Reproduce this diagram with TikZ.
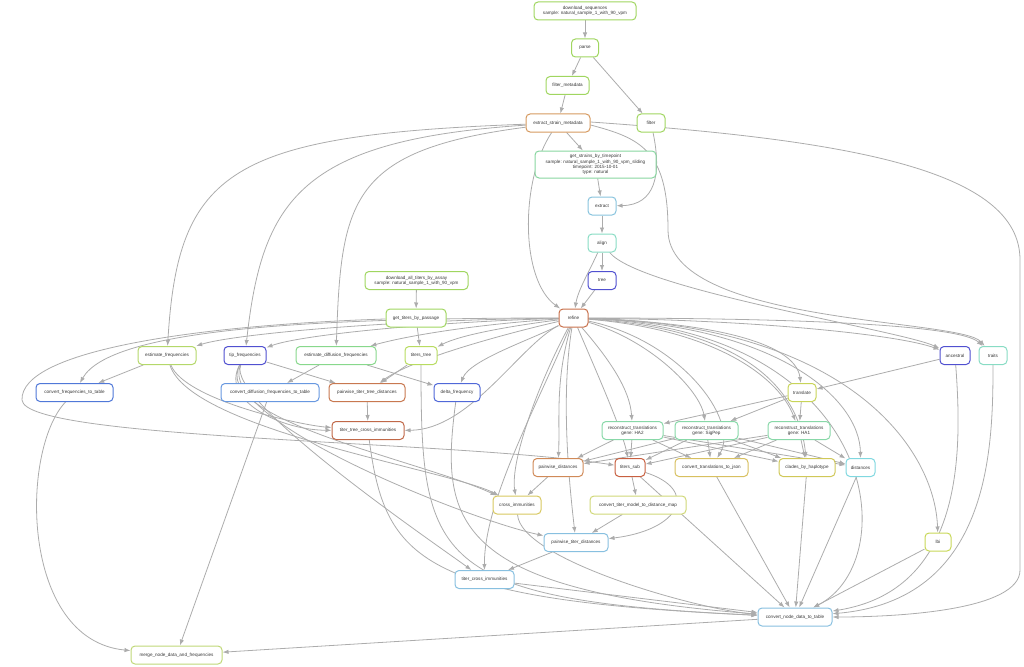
\documentclass[tikz,border=0pt]{standalone}
\usepackage{fontspec}
\setmainfont{Liberation Sans}
\usetikzlibrary{arrows.meta,backgrounds}
\definecolor{ec}{RGB}{172,172,172}
\definecolor{cgreen}{RGB}{160,214,96}
\definecolor{cesm}{RGB}{214,154,96}
\definecolor{cmint}{RGB}{136,214,160}
\definecolor{cltblue}{RGB}{136,196,222}
\definecolor{cteal}{RGB}{136,220,196}
\definecolor{cblue}{RGB}{80,80,208}
\definecolor{crefine}{RGB}{200,112,74}
\definecolor{cyg}{RGB}{180,216,106}
\definecolor{cdiff}{RGB}{136,216,140}
\definecolor{ctt}{RGB}{184,220,96}
\definecolor{ccft}{RGB}{80,120,216}
\definecolor{ccdft}{RGB}{104,152,224}
\definecolor{cpttd}{RGB}{200,120,80}
\definecolor{cdf}{RGB}{80,104,216}
\definecolor{ctransl}{RGB}{200,212,88}
\definecolor{cttci}{RGB}{192,104,72}
\definecolor{crt}{RGB}{136,216,168}
\definecolor{cpd}{RGB}{208,138,88}
\definecolor{cts}{RGB}{200,96,64}
\definecolor{cyel}{RGB}{216,192,96}
\definecolor{ccbh}{RGB}{208,200,88}
\definecolor{cdist}{RGB}{128,216,224}
\definecolor{cci}{RGB}{216,200,96}
\definecolor{cctm}{RGB}{208,216,120}
\definecolor{clbi}{RGB}{200,216,88}
\definecolor{cptd}{RGB}{136,192,224}
\definecolor{cmerge}{RGB}{192,216,120}
\tikzset{
 nd/.style={rectangle, rounded corners=4pt, line width=1pt, fill=white, minimum height=18pt, inner sep=1pt, align=center, font=\fontsize{4.6}{5.3}\selectfont, text=black!78},
 e/.style={draw=ec, line width=0.8pt, -{Latex[length=6pt,width=4.4pt]}}
}
\begin{document}
\begin{tikzpicture}[x=1pt,y=-1pt]
\useasboundingbox (0,0) rectangle (1024,666);
% nodes
\node[nd,draw=cgreen,minimum width=102pt] (ds) at (585,11) {download\_sequences\\sample: natural\_sample\_1\_with\_90\_vpm};
\node[nd,draw=cgreen,minimum width=27pt] (parse) at (585,48) {parse};
\node[nd,draw=cgreen,minimum width=43pt] (fm) at (567.5,85.5) {filter\_metadata};
\node[nd,draw=cesm,minimum width=64pt] (esm) at (558,123) {extract\_strain\_metadata};
\node[nd,draw=cgreen,minimum width=28pt] (filt) at (651,123) {filter};
\node[nd,draw=cmint,minimum width=121pt,minimum height=27pt] (gst) at (595.5,164.5) {get\_strains\_by\_timepoint\\sample: natural\_sample\_1\_with\_90\_vpm\_sliding\\timepoint: 2015-10-01\\type: natural};
\node[nd,draw=cltblue,minimum width=28pt] (extr) at (602,206) {extract};
\node[nd,draw=cteal,minimum width=28pt] (align) at (602,243) {align};
\node[nd,draw=cblue,minimum width=28pt] (tree) at (602,280.5) {tree};
\node[nd,draw=cgreen,minimum width=103pt] (dat) at (416.5,280.5) {download\_all\_titers\_by\_assay\\sample: natural\_sample\_1\_with\_90\_vpm};
\node[nd,draw=cgreen,minimum width=60pt] (gtp) at (416,318) {get\_titers\_by\_passage};
\node[nd,draw=crefine,minimum width=29pt] (refine) at (573.5,318) {refine};
\node[nd,draw=cyg,minimum width=58pt] (ef) at (167,355.5) {estimate\_frequencies};
\node[nd,draw=cblue,minimum width=42pt] (tf) at (245,355.5) {tip\_frequencies};
\node[nd,draw=cdiff,minimum width=80pt] (edf) at (336,355.5) {estimate\_diffusion\_frequencies};
\node[nd,draw=ctt,minimum width=32pt] (tt) at (421,355.5) {titers\_tree};
\node[nd,draw=cblue,minimum width=30pt] (anc) at (955,355.5) {ancestral};
\node[nd,draw=cteal,minimum width=28pt] (traits) at (993,355.5) {traits};
\node[nd,draw=ccft,minimum width=77pt] (cft) at (74.5,392.5) {convert\_frequencies\_to\_table};
\node[nd,draw=ccdft,minimum width=98pt] (cdft) at (270,392.5) {convert\_diffusion\_frequencies\_to\_table};
\node[nd,draw=cpttd,minimum width=76pt] (pttd) at (367,392.5) {pairwise\_titer\_tree\_distances};
\node[nd,draw=cdf,minimum width=46pt] (df) at (457,392.5) {delta\_frequency};
\node[nd,draw=ctransl,minimum width=28pt] (transl) at (802,392.5) {translate};
\node[nd,draw=cttci,minimum width=72pt] (ttci) at (368,430.5) {titer\_tree\_cross\_immunities};
\node[nd,draw=crt,minimum width=61pt] (ha2) at (632.5,430.5) {reconstruct\_translations\\gene: HA2};
\node[nd,draw=crt,minimum width=63pt] (sig) at (706.5,430.5) {reconstruct\_translations\\gene: SigPep};
\node[nd,draw=crt,minimum width=62pt] (ha1) at (799,430.5) {reconstruct\_translations\\gene: HA1};
\node[nd,draw=cpd,minimum width=50pt] (pd) at (558,467.5) {pairwise\_distances};
\node[nd,draw=cts,minimum width=30pt] (ts) at (630,467.5) {titers\_sub};
\node[nd,draw=cyel,minimum width=73pt] (cttj) at (711.5,467.5) {convert\_translations\_to\_json};
\node[nd,draw=ccbh,minimum width=56pt] (cbh) at (807,467.5) {clades\_by\_haplotype};
\node[nd,draw=cdist,minimum width=29pt] (dist) at (860.5,467.5) {distances};
\node[nd,draw=cci,minimum width=48pt] (ci) at (517,505) {cross\_immunities};
\node[nd,draw=cctm,minimum width=96pt] (ctm) at (638,505) {convert\_titer\_model\_to\_distance\_map};
\node[nd,draw=clbi,minimum width=26pt] (lbi) at (938,542) {lbi};
\node[nd,draw=cptd,minimum width=64pt] (ptd) at (576,542.5) {pairwise\_titer\_distances};
\node[nd,draw=cptd,minimum width=59pt] (tci) at (484.5,579.5) {titer\_cross\_immunities};
\node[nd,draw=cptd,minimum width=74pt] (cnd) at (795,617) {convert\_node\_data\_to\_table};
\node[nd,draw=cmerge,minimum width=91pt] (merge) at (176.5,655) {merge\_node\_data\_and\_frequencies};
\begin{scope}[on background layer]
% edges top
\draw[e] (ds) -- (parse);
\draw[e] (parse) -- (fm);
\draw[e] (parse) -- (filt);
\draw[e] (fm) -- (esm);
\draw[e] (esm) -- (gst);
\draw[e] (gst) -- (extr);
\draw[e] (filt) .. controls (662,175) and (655,205) .. (extr);
\draw[e] (extr) -- (align);
\draw[e] (align) -- (tree);
\draw[e] (align) .. controls (590,270) and (578,290) .. (refine);
\draw[e] (tree) -- (refine);
\draw[e] (esm) .. controls (520,180) and (520,280) .. (refine);
\draw[e] (align) .. controls (640,290) and (900,330) .. (anc);
\draw[e] ([yshift=-2pt]esm.east) .. controls (640,138) and (668,150) .. (668,230) .. controls (668,325) and (960,318) .. (traits);
\draw[e] ([yshift=1pt]esm.east) .. controls (850,140) and (1020,170) .. (1020,260) -- (1020,570) .. controls (1020,610) and (900,617) .. (cnd);
\draw[e] (esm) .. controls (230,135) and (178,170) .. (ef);
\draw[e] (esm) .. controls (300,140) and (262,200) .. (tf);
\draw[e] (esm) .. controls (350,150) and (341,200) .. (edf);
\draw[e] (dat) -- (gtp);
\draw[e] (gtp) -- (tt);
\draw[e] (gtp) .. controls (200,325) and (20,350) .. (22,400) .. controls (25,440) and (450,440) .. (ts);
% refine left fan
\draw[e] (refine) .. controls (300,318) and (110,330) .. (cft);
\draw[e] (refine) .. controls (380,320) and (230,335) .. (ef);
\draw[e] (refine) .. controls (430,322) and (300,335) .. (tf);
\draw[e] (refine) .. controls (480,324) and (410,335) .. (edf);
\draw[e] (refine) .. controls (510,326) and (460,335) .. (tt);
\draw[e] (refine) .. controls (500,335) and (410,360) .. (pttd);
\draw[e] (refine) .. controls (530,340) and (470,360) .. (df);
\draw[e] (refine) .. controls (520,345) and (470,430) .. (ttci);
% refine down fan
\draw[e] (refine) .. controls (540,400) and (484,500) .. (tci);
\draw[e] (refine) .. controls (540,380) and (510,460) .. (ci);
\draw[e] (refine) .. controls (555,380) and (560,420) .. (pd);
\draw[e] (refine) .. controls (560,400) and (570,490) .. (ptd);
\draw[e] (refine) .. controls (600,380) and (622,430) .. (ts);
% refine right fan
\draw[e] (refine) .. controls (610,360) and (630,390) .. (ha2);
\draw[e] (refine) .. controls (650,340) and (700,390) .. (sig);
\draw[e] (refine) .. controls (720,330) and (780,380) .. (ha1);
\draw[e] (refine) .. controls (700,322) and (795,340) .. (transl);
\draw[e] (refine) .. controls (760,320) and (900,335) .. (anc);
\draw[e] (refine) .. controls (800,318) and (960,325) .. (traits);
\draw[e] (refine) .. controls (780,325) and (860,400) .. (dist);
\draw[e] (refine) .. controls (760,330) and (800,400) .. (cbh);
\draw[e] (refine) .. controls (680,340) and (740,420) .. (cttj);
\draw[e] (refine) .. controls (850,325) and (935,450) .. (lbi);
\draw[e] (refine) .. controls (880,330) and (905,560) .. (cnd);
% right part
\draw[e] (anc) -- (transl);
\draw[e] (anc) .. controls (962,450) and (965,590) .. (cnd);
\draw[e] (traits) .. controls (993,450) and (990,600) .. (cnd);
\draw[e] (transl) -- (ha2);
\draw[e] (transl) -- (sig);
\draw[e] (transl) -- (ha1);
\foreach \r in {ha2,sig,ha1}{
  \draw[e] (\r) -- (pd);
  \draw[e] (\r) -- (ts);
  \draw[e] (\r) -- (cttj);
  \draw[e] (\r) -- (cbh);
  \draw[e] (\r) -- (dist);
}
\draw[e] (ts) -- (ctm);
\draw[e] (ctm) -- (ptd);
\draw[e] (ts) .. controls (700,490) and (680,530) .. (ptd);
\draw[e] (ts) -- (cnd);
\draw[e] (pd) -- (ci);
\draw[e] (ptd) -- (tci);
\draw[e] (ci) .. controls (520,560) and (700,610) .. (cnd);
\draw[e] (tci) -- (cnd);
\draw[e] (cttj) -- (cnd);
\draw[e] (cbh) -- (cnd);
\draw[e] (dist) -- (cnd);
\draw[e] (lbi) -- (cnd);
\draw[e] (tt) .. controls (421,560) and (430,600) .. (cnd);
\draw[e] (df) .. controls (440,520) and (450,590) .. (cnd);
\draw[e] (ttci) .. controls (385,560) and (420,600) .. (cnd);
% left part
\draw[e] (ef) -- (cft);
\draw[e] (edf) -- (cdft);
\draw[e] (tf) -- (pttd);
\draw[e] (tt) -- (pttd);
\draw[e] (edf) -- (df);
\draw[e] (pttd) -- (ttci);
\draw[e] (tf) .. controls (220,400) and (280,430) .. (ttci);
\draw[e] (ef) .. controls (185,400) and (300,425) .. (ttci);
\draw[e] (ef) .. controls (190,430) and (450,470) .. (ci);
\draw[e] (tf) .. controls (210,420) and (420,460) .. (ci);
\draw[e] (tf) .. controls (225,400) and (430,540) .. (tci);
\draw[e] (tf) .. controls (215,420) and (470,520) .. (ptd);
\draw[e] (cft) .. controls (20,450) and (20,640) .. (merge);
\draw[e] (cdft) -- (merge);
\draw[e] (cnd) -- (merge);
\end{scope}
\end{tikzpicture}
\end{document}
